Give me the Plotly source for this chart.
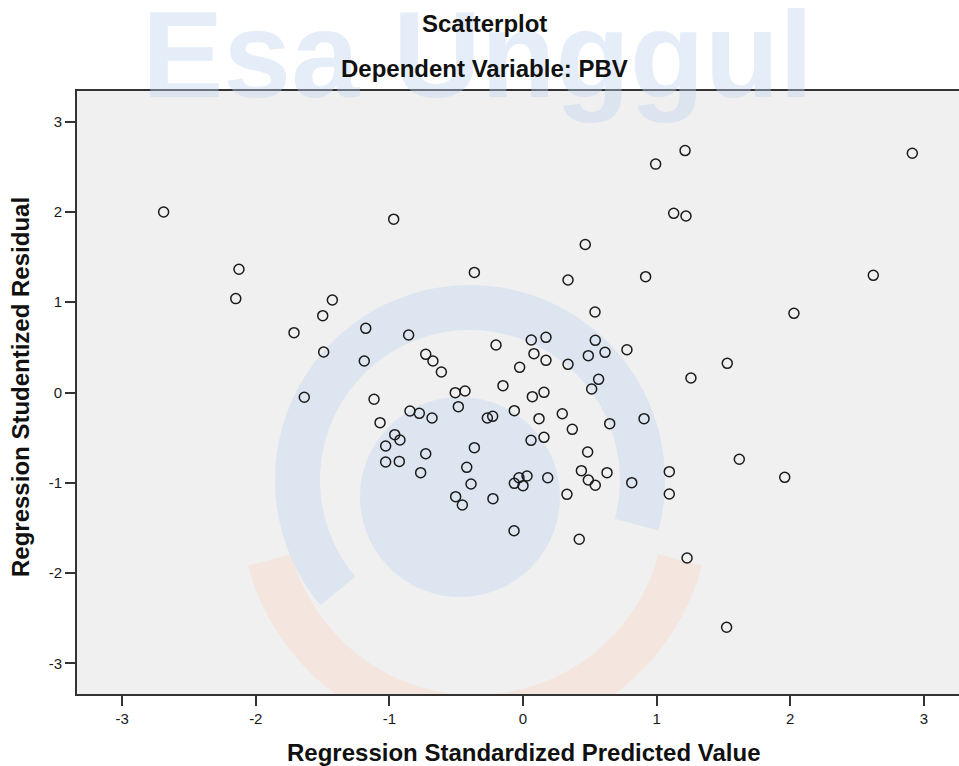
import numpy as np
import plotly.graph_objects as go

# Regression Standardized Predicted Value (x) and Regression Studentized Residual (y)
pred = [-2.69, -2.126, -2.15, -1.427, 0.993, -0.968, 0.466, -0.364, 0.337, 0.918,
        1.213, 1.128, 1.22, 2.914, 2.622, -1.499, -1.714, -1.177, -1.492, -1.188,
        -1.637, 0.539, -0.856, 0.062, 0.172, -0.202, 0.541, -0.728, -0.674, 0.082,
        0.172, 0.489, 0.614, 0.778, -0.611, -0.025, 0.337, -0.150, 0.566, 0.514,
        -0.507, -0.434, 0.070, 0.157, -1.115, -0.484, -0.846, -0.776, -0.681, -0.267,
        -0.227, -0.065, 0.120, 0.294, -1.070, 0.369, 0.649, 0.906, -0.960, -0.921,
        -1.028, -0.364, 0.060, 0.157, 0.484, -1.028, -0.926, -0.728, -0.421, -0.766,
        0.437, 0.629, 0.814, 0.489, 0.541, -0.389, -0.065, -0.030, 0.030, 0.000,
        0.185, -0.504, -0.225, 0.329, 2.028, 1.529, 1.257, 1.619, 1.095, 1.959,
        1.095, -0.067, 0.421, 1.228, 1.524, -0.454]
resid = [2.00, 1.365, 1.04, 1.025, 2.53, 1.92, 1.64, 1.33, 1.246, 1.283,
         2.68, 1.985, 1.955, 2.65, 1.298, 0.851, 0.663, 0.711, 0.449, 0.349,
         -0.053, 0.892, 0.637, 0.582, 0.611, 0.526, 0.578, 0.423, 0.349, 0.430,
         0.356, 0.408, 0.445, 0.474, 0.227, 0.279, 0.312, 0.076, 0.146, 0.039,
         -0.002, 0.017, -0.046, 0.002, -0.075, -0.157, -0.205, -0.231, -0.282, -0.282,
         -0.264, -0.201, -0.290, -0.235, -0.334, -0.408, -0.345, -0.290, -0.467, -0.526,
         -0.593, -0.611, -0.530, -0.497, -0.659, -0.770, -0.763, -0.678, -0.829, -0.888,
         -0.866, -0.888, -0.999, -0.969, -1.028, -1.014, -1.006, -0.944, -0.925, -1.032,
         -0.944, -1.154, -1.176, -1.128, 0.877, 0.323, 0.161, -0.740, -0.877, -0.940,
         -1.124, -1.531, -1.626, -1.833, -2.601, -1.246]

tick_vals = [-3, -2, -1, 0, 1, 2, 3]
tick_text = ["-3", "-2", "-1", "0", "1", "2", "3"]

title_main = "Scatterplot"
title_sub = "Dependent Variable: PBV"
x_title = "Regression Standardized Predicted Value"
y_title = "Regression Studentized Residual"
watermark = "Esa Unggul"

FONT = "Liberation Sans, Arial, sans-serif"
W, H = 959, 766
ML, MR, MT, MB = 77, 0, 91, 72
PW, PH = W - ML - MR, H - MT - MB
XPX, X0 = 133.6, 523.0   # px per unit, px of zero
YPX, Y0 = 90.27, 392.5
x_range = [(ML - X0) / XPX, (W - MR - X0) / XPX]
y_range = [(Y0 - (H - MB)) / YPX, (Y0 - MT) / YPX]


def px2d(px, py):
    return (px - X0) / XPX, (Y0 - py) / YPX


def ring_path(cx, cy, r_out, r_in, a0, a1, n=80):
    th = np.radians(np.linspace(a0, a1, n))
    pts = []
    for r, t in ((r_out, th), (r_in, th[::-1])):
        for a in t:
            pts.append(px2d(cx + r * np.cos(a), cy - r * np.sin(a)))
    return "M " + " L ".join(f"{x:.4f},{y:.4f}" for x, y in pts) + " Z"


fig = go.Figure()
fig.add_trace(go.Scatter(
    x=pred, y=resid, mode="markers",
    marker=dict(symbol="circle-open", size=10, color="#1a1a1a",
                line=dict(width=1.5, color="#1a1a1a")),
    hoverinfo="x+y", showlegend=False))

# faint watermark decoration (logo swirl)
shapes = []
blue = "rgba(205,220,240,0.55)"
peach = "rgba(248,222,208,0.55)"
shapes.append(dict(type="path", xref="x", yref="y", layer="below",
                   path=ring_path(475, 505, 235, 190, 195, 345), fillcolor=peach, line_width=0))
shapes.append(dict(type="path", xref="x", yref="y", layer="below",
                   path=ring_path(470, 480, 195, 150, -15, 220), fillcolor=blue, line_width=0))
shapes.append(dict(type="path", xref="x", yref="y", layer="below",
                   path=ring_path(460, 497, 100, 0.1, 0, 360), fillcolor=blue, line_width=0))

ann = []
ann.append(dict(text=watermark, xref="paper", yref="paper",
                x=(477 - ML) / PW, y=(H - MB - 55) / PH, showarrow=False,
                xanchor="center", yanchor="middle",
                font=dict(family=FONT, size=122, color="rgba(190,210,238,0.40)", weight="bold")))
ann.append(dict(text=title_main, xref="paper", yref="paper",
                x=(484 - ML) / PW, y=(H - MB - 24) / PH, showarrow=False,
                xanchor="center", yanchor="middle",
                font=dict(family=FONT, size=24, color="#111111", weight="bold")))
ann.append(dict(text=title_sub, xref="paper", yref="paper",
                x=(484 - ML) / PW, y=(H - MB - 69) / PH, showarrow=False,
                xanchor="center", yanchor="middle",
                font=dict(family=FONT, size=24, color="#111111", weight="bold")))
ann.append(dict(text=x_title, xref="x", yref="paper",
                x=0, y=(H - MB - 752) / PH, showarrow=False,
                xanchor="center", yanchor="middle",
                font=dict(family=FONT, size=24, color="#111111", weight="bold")))
ann.append(dict(text=y_title, xref="paper", yref="paper", textangle=-90,
                x=(20 - ML) / PW, y=(H - MB - 387) / PH, showarrow=False,
                xanchor="center", yanchor="middle",
                font=dict(family=FONT, size=24, color="#111111", weight="bold")))

fig.update_layout(
    width=W, height=H,
    margin=dict(l=ML, r=MR, t=MT, b=MB, pad=0),
    paper_bgcolor="white", plot_bgcolor="#F0F0F0",
    shapes=shapes, annotations=ann,
    font=dict(family=FONT, color="#222222"),
    xaxis=dict(range=x_range, tickvals=tick_vals, ticktext=tick_text,
               showgrid=False, zeroline=False, showline=True, mirror=True,
               linecolor="#333333", linewidth=2, ticks="outside", ticklen=10,
               tickwidth=1.5, tickcolor="#333333",
               tickfont=dict(family=FONT, size=15, color="#1a1a1a")),
    yaxis=dict(range=y_range, tickvals=tick_vals, ticktext=tick_text,
               showgrid=False, zeroline=False, showline=True, mirror=False,
               linecolor="#333333", linewidth=2, ticks="outside", ticklen=10,
               tickwidth=1.5, tickcolor="#333333",
               tickfont=dict(family=FONT, size=15, color="#1a1a1a")),
)

fig.write_html("out.html", config={"displayModeBar": False},
               post_script="document.body.style.margin='0';document.body.style.overflow='hidden';")
